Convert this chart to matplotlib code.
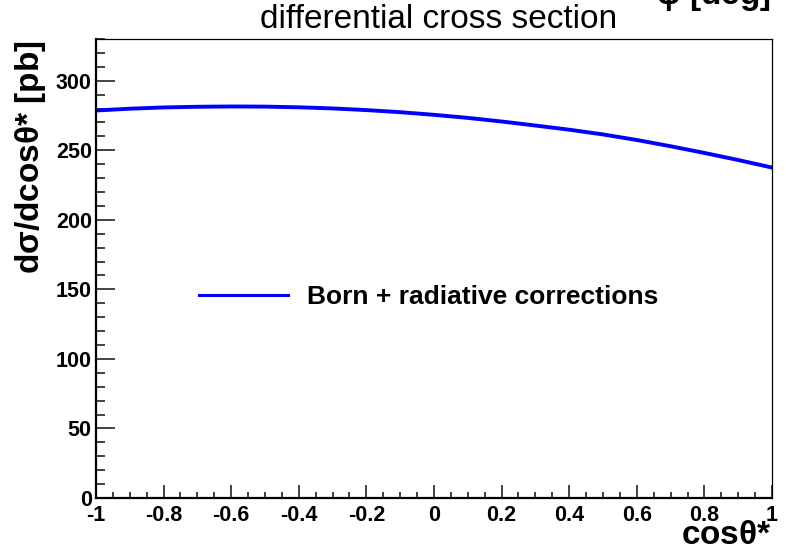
import matplotlib
matplotlib.use("Agg")
import matplotlib.pyplot as plt
from matplotlib.ticker import MultipleLocator

plt.rcParams['font.family'] = ['Liberation Sans', 'DejaVu Sans']
plt.rcParams['mathtext.default'] = 'regular'

# cos(theta*) points and the differential cross section in pb
cos_theta = [-1.0, -0.9, -0.8, -0.7, -0.6, -0.5, -0.4, -0.3, -0.2, -0.1, 0.0,
             0.1, 0.2, 0.3, 0.4, 0.5, 0.6, 0.7, 0.8, 0.9, 1.0]
dsigma = [278.6, 279.9, 280.8, 281.3, 281.5, 281.4, 280.9, 280.1, 278.9, 277.4, 275.5,
          273.3, 270.7, 267.8, 264.8, 261.4, 257.4, 252.9, 248.1, 243.0, 237.6]

xtick_vals = [-1, -0.8, -0.6, -0.4, -0.2, 0, 0.2, 0.4, 0.6, 0.8, 1]
xtick_labels = ['-1', '-0.8', '-0.6', '-0.4', '-0.2', '0', '0.2', '0.4', '0.6', '0.8', '1']

fig = plt.figure(figsize=(7.86, 5.48), dpi=100)
ax = fig.add_axes([0.1221, 0.0912, 0.8601, 0.8376])

line, = ax.plot(cos_theta, dsigma, color='#0000ff', lw=2.8, label='Born + radiative corrections')

ax.set_xlim(-1, 1)
ax.set_ylim(0, 330)

ax.set_xticks(xtick_vals)
ax.set_xticklabels(xtick_labels)
ax.xaxis.set_minor_locator(MultipleLocator(0.05))
ax.yaxis.set_major_locator(MultipleLocator(50))
ax.yaxis.set_minor_locator(MultipleLocator(10))

ax.tick_params(axis='both', which='both', direction='in', top=False, right=False,
               color='#333333', width=1.3)
ax.tick_params(axis='x', which='major', length=9.5, pad=5)
ax.tick_params(axis='x', which='minor', length=4.5)
ax.tick_params(axis='y', which='major', length=13.5, pad=3)
ax.tick_params(axis='y', which='minor', length=6.5)
for lab in ax.get_xticklabels() + ax.get_yticklabels():
    lab.set_fontsize(15.5)
    lab.set_fontweight('bold')

for side in ['left', 'bottom']:
    ax.spines[side].set_linewidth(1.6)
for side in ['top', 'right']:
    ax.spines[side].set_linewidth(0.9)

# axis titles placed ROOT-style at the far ends of the axes
fig.text(0.039, 0.927, r'd$\sigma$/dcos$\theta$* [pb]', fontsize=24, fontweight='bold',
         rotation=90, ha='center', va='top')
fig.text(0.9822, 0.0073, r'cos$\theta$*', fontsize=24, fontweight='bold', ha='right', va='baseline')

fig.text(0.5585, 0.949, 'differential cross section', fontsize=24, ha='center', va='baseline')
fig.text(0.98, 0.9927, r'$\varphi$ [deg]', fontsize=24, fontweight='bold', ha='right', va='baseline')

leg = ax.legend(loc='center left', bbox_to_anchor=(0.152, 0.438), frameon=False,
                borderpad=0, borderaxespad=0, handlelength=3.37, handletextpad=0.72,
                prop={'size': 19, 'weight': 'bold'})
leg.get_lines()[0].set_linewidth(2.2)

fig.savefig('out.png', dpi=100)
